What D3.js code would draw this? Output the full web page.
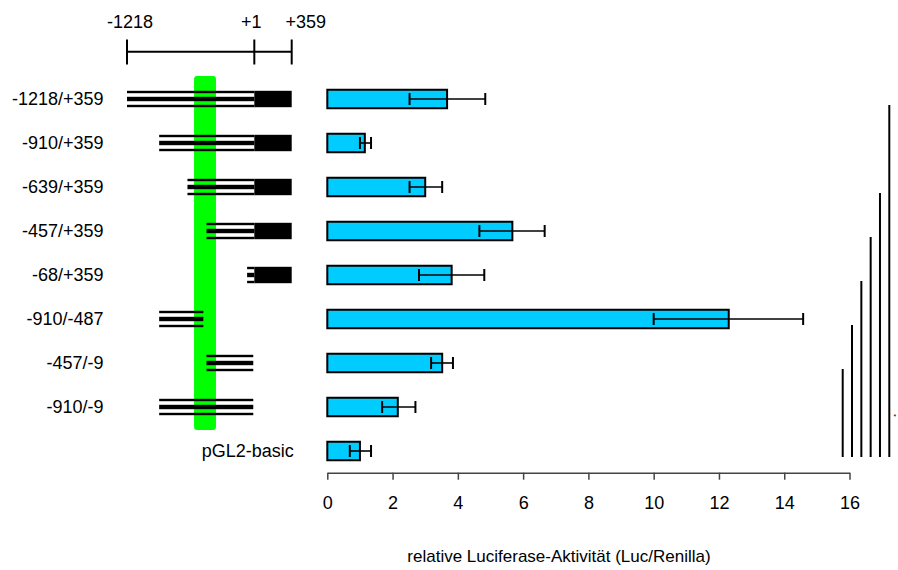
<!DOCTYPE html>
<html>
<head>
<meta charset="utf-8">
<script src="https://cdn.jsdelivr.net/npm/d3@7"></script>
<style>
  html, body { margin: 0; padding: 0; background: #fff; }
  svg { display: block; font-family: "Liberation Sans", Arial, sans-serif; }
</style>
</head>
<body>
<svg id="chart" width="898" height="570"></svg>
<script>
// Promoter deletion constructs and their reporter activity
const constructs = ["-1218/+359", "-910/+359", "-639/+359", "-457/+359", "-68/+359",
                    "-910/-487", "-457/-9", "-910/-9", "pGL2-basic"];
const constructStart = [-1218, -910, -639, -457, -68, -910, -457, -910, null];
const constructEnd   = [359, 359, 359, 359, 359, -487, -9, -9, null];

// relative luciferase activity (Luc/Renilla) with error range
const activity = [3.67, 1.15, 3.00, 5.67, 3.81, 12.30, 3.52, 2.16, 1.00];
const errLow   = [2.52, 1.00, 2.52, 4.66, 2.81, 10.00, 3.18, 1.68, 0.69];
const errHigh  = [4.84, 1.34, 3.52, 6.66, 4.81, 14.58, 3.85, 2.70, 1.34];

const xTicks = [0, 2, 4, 6, 8, 10, 12, 14, 16];

// map coordinates (bp relative to transcription start)
const mapTicks = [-1218, 1, 359];
const mapTickLabels = ["-1218", "+1", "+359"];
const transcribedRegion = [1, 359];
const elementRegion = [-576, -366];

// comparisons against the empty vector
const comparisons = ["-457/-9", "-910/-487", "-68/+359", "-457/+359", "-639/+359", "-1218/+359"];
const reference = "pGL2-basic";

const svg = d3.select("#chart");
const FONT = 18;

const y = d3.scalePoint().domain(constructs).range([99, 451]);
const x = d3.scaleLinear().domain([0, 16]).range([327.3, 849.5]);
const bp = d3.scaleLinear().domain([-1218, 359]).range([127, 291.7]);

// ---- map scale bar ----
const mapG = svg.append("g");
mapG.append("line")
  .attr("x1", bp(mapTicks[0])).attr("x2", bp(mapTicks[mapTicks.length - 1]))
  .attr("y1", 51.7).attr("y2", 51.7)
  .attr("stroke", "#000").attr("stroke-width", 2);
mapG.selectAll("line.tick").data(mapTicks).enter().append("line")
  .attr("class", "tick")
  .attr("x1", d => bp(d)).attr("x2", d => bp(d))
  .attr("y1", 39.5).attr("y2", 64.5)
  .attr("stroke", "#000").attr("stroke-width", 2);
const labelShift = [3, -3, 14];
mapG.selectAll("text").data(mapTicks).enter().append("text")
  .attr("x", (d, i) => bp(d) + labelShift[i])
  .attr("y", 28)
  .attr("text-anchor", "middle")
  .attr("font-size", FONT)
  .text((d, i) => mapTickLabels[i]);

// ---- regulatory element highlight ----
svg.append("rect")
  .attr("x", bp(elementRegion[0])).attr("width", bp(elementRegion[1]) - bp(elementRegion[0]))
  .attr("y", y(constructs[0]) - 23)
  .attr("height", y(constructs[constructs.length - 2]) - y(constructs[0]) + 46)
  .attr("rx", 3).attr("ry", 3)
  .attr("fill", "#00ff00");

// ---- construct diagrams ----
const diag = svg.append("g");
constructs.forEach((name, i) => {
  const s = constructStart[i], e = constructEnd[i];
  if (s === null) return;
  const cy = y(name);
  const lineEnd = Math.min(e, transcribedRegion[0]);
  const x0 = bp(s), x1 = bp(lineEnd);
  // three strands: thin, thick, thin
  [[-8.2, 2.4], [-2.2, 4.4], [5.8, 2.4]].forEach(([off, h]) => {
    diag.append("rect")
      .attr("x", x0).attr("width", x1 - x0)
      .attr("y", cy + off).attr("height", h)
      .attr("fill", "#000");
  });
  if (e > transcribedRegion[0]) {
    diag.append("rect")
      .attr("x", bp(transcribedRegion[0])).attr("width", bp(e) - bp(transcribedRegion[0]))
      .attr("y", cy - 8.2).attr("height", 16.4)
      .attr("fill", "#000");
  }
});

// ---- construct labels ----
svg.append("g").selectAll("text").data(constructs).enter().append("text")
  .attr("x", d => d === reference ? bp(359) + 2 : 103.5)
  .attr("y", d => y(d))
  .attr("dy", "0.35em")
  .attr("text-anchor", "end")
  .attr("font-size", FONT)
  .text(d => d);

// ---- bars ----
const barH = 18.5;
const bars = svg.append("g");
bars.selectAll("rect").data(constructs).enter().append("rect")
  .attr("x", x(0))
  .attr("y", d => y(d) - barH / 2)
  .attr("width", (d, i) => x(activity[i]) - x(0))
  .attr("height", barH)
  .attr("fill", "#00ccff")
  .attr("stroke", "#000")
  .attr("stroke-width", 2);

// ---- error bars ----
const err = svg.append("g").attr("stroke", "#000");
constructs.forEach((name, i) => {
  const cy = y(name);
  err.append("line")
    .attr("x1", x(errLow[i])).attr("x2", x(errHigh[i]))
    .attr("y1", cy).attr("y2", cy)
    .attr("stroke-width", 1.6);
  [errLow[i], errHigh[i]].forEach(v => {
    err.append("line")
      .attr("x1", x(v)).attr("x2", x(v))
      .attr("y1", cy - 6).attr("y2", cy + 6)
      .attr("stroke-width", 2);
  });
});

// ---- x axis ----
const axis = svg.append("g")
  .attr("transform", "translate(0,472.7)")
  .call(d3.axisBottom(x).tickValues(xTicks).tickSize(7).tickSizeOuter(0).tickPadding(17)
        .tickFormat(d3.format("d")));
axis.select(".domain").attr("stroke", "#444").attr("stroke-width", 1.5);
axis.selectAll(".tick line").attr("stroke", "#444").attr("stroke-width", 1.5);
axis.selectAll(".tick text")
  .attr("font-size", FONT)
  .attr("font-family", "Liberation Sans, Arial, sans-serif")
  .attr("fill", "#000");

svg.append("text")
  .attr("x", 559).attr("y", 562)
  .attr("text-anchor", "middle")
  .attr("font-size", 17)
  .text("relative Luciferase-Aktivität (Luc/Renilla)");

// ---- significance brackets vs. empty vector ----
const lane = d3.scalePoint().domain(comparisons).range([842.7, 889.3]);
const sig = svg.append("g").attr("stroke", "#000").attr("stroke-width", 2);
comparisons.forEach(name => {
  sig.append("line")
    .attr("x1", lane(name)).attr("x2", lane(name))
    .attr("y1", y(name) + 6).attr("y2", y(reference) + 6);
});
svg.append("text")
  .attr("x", 893.5).attr("y", 419)
  .attr("font-size", 7)
  .text("*");
</script>
</body>
</html>
